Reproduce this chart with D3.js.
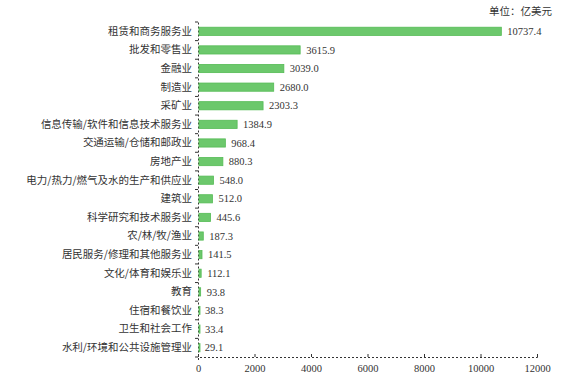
<!DOCTYPE html>
<html>
<head>
<meta charset="utf-8">
<script src="https://cdn.jsdelivr.net/npm/d3@7"></script>
<style>
  body { margin: 0; background: #fff; }
  svg text { fill: #333; }
</style>
</head>
<body>
<script>
var categories = [
  "租赁和商务服务业", "批发和零售业", "金融业", "制造业", "采矿业",
  "信息传输/软件和信息技术服务业", "交通运输/仓储和邮政业", "房地产业",
  "电力/热力/燃气及水的生产和供应业", "建筑业", "科学研究和技术服务业",
  "农/林/牧/渔业", "居民服务/修理和其他服务业", "文化/体育和娱乐业",
  "教育", "住宿和餐饮业", "卫生和社会工作", "水利/环境和公共设施管理业"
];
var values = [10737.4, 3615.9, 3039.0, 2680.0, 2303.3, 1384.9, 968.4, 880.3,
  548.0, 512.0, 445.6, 187.3, 141.5, 112.1, 93.8, 38.3, 33.4, 29.1];
var xTicks = [0, 2000, 4000, 6000, 8000, 10000, 12000];

var width = 568, height = 384;
var margin = {top: 22, right: 31, bottom: 27, left: 198};
var w = width - margin.left - margin.right;
var h = height - margin.top - margin.bottom;

var data = categories.map(function(c, i) { return {name: c, value: values[i]}; });

var xScale = d3.scaleLinear().domain([0, 12000]).range([0, w]);
var yScale = d3.scaleBand().domain(categories).range([0, h]).paddingInner(0.56).paddingOuter(0.28);

var svg = d3.select("body").append("svg")
    .attr("width", width)
    .attr("height", height)
  .append("g")
    .attr("transform", "translate(" + margin.left + "," + margin.top + ")");

// unit label
svg.append("text")
    .attr("x", w + 15)
    .attr("y", -7)
    .attr("text-anchor", "end")
    .style("font-family", "'Noto Sans CJK SC'")
    .style("font-size", "10.5px")
    .text("单位：亿美元");

// x axis
var xAxis = svg.append("g")
    .attr("transform", "translate(0," + h + ")")
    .call(d3.axisBottom(xScale).tickValues(xTicks).tickSize(3).tickFormat(d3.format("d")));
xAxis.select(".domain").attr("stroke", "#333").attr("stroke-dasharray", "2,2");
xAxis.selectAll(".tick line").attr("stroke", "#333").attr("transform", "translate(0,-3)");
xAxis.selectAll("text")
    .attr("dy", "0.9em")
    .style("font-family", "'Liberation Serif'")
    .style("font-size", "10.5px");

// y axis
var yAxis = svg.append("g")
    .call(d3.axisLeft(yScale).tickSize(0).tickPadding(6));
yAxis.select(".domain").attr("stroke", "#333").attr("stroke-dasharray", "2,2");
yAxis.selectAll("text")
    .style("font-family", "'Noto Sans CJK SC'")
    .style("font-size", "10.5px");
// small ticks between categories
svg.append("g").selectAll("line")
    .data(d3.range(categories.length + 1))
  .enter().append("line")
    .attr("x1", -3).attr("x2", 0)
    .attr("y1", function(d) { return h * d / categories.length; })
    .attr("y2", function(d) { return h * d / categories.length; })
    .attr("stroke", "#333");

// bars
svg.selectAll(".bar")
    .data(data)
  .enter().append("rect")
    .attr("class", "bar")
    .attr("x", 1)
    .attr("y", function(d) { return yScale(d.name); })
    .attr("width", function(d) { return Math.max(1, xScale(d.value) - 1); })
    .attr("height", yScale.bandwidth())
    .attr("fill", "#6cc86c")
    .attr("stroke", "#55bb55")
    .attr("stroke-width", 0.8);

// value labels
svg.selectAll(".val")
    .data(data)
  .enter().append("text")
    .attr("class", "val")
    .attr("x", function(d) { return xScale(d.value) + 6; })
    .attr("y", function(d) { return yScale(d.name) + yScale.bandwidth() / 2; })
    .attr("dy", "0.35em")
    .style("font-family", "'Liberation Serif'")
    .style("font-size", "10.5px")
    .text(function(d) { return d.value.toFixed(1); });
</script>
</body>
</html>
